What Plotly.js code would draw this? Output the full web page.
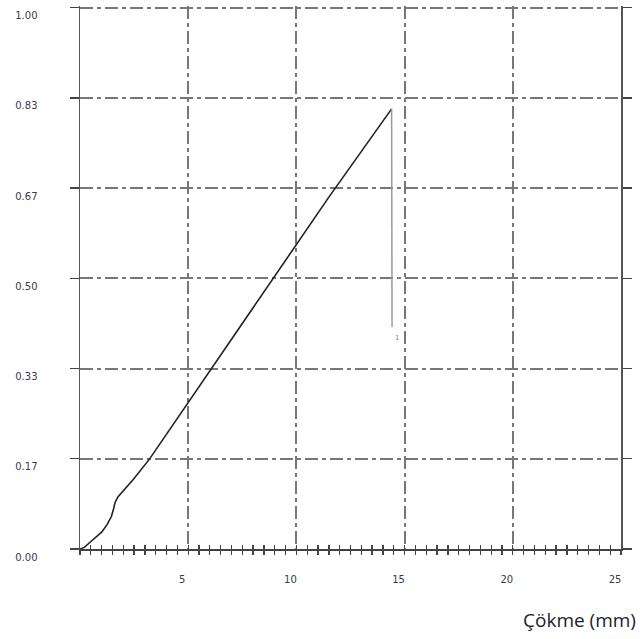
<!DOCTYPE html>
<html>
<head>
<meta charset="utf-8">
<script src="https://cdn.plot.ly/plotly-3.0.1.min.js"></script>
<style>html,body{margin:0;padding:0;background:#fff;}#chart{width:640px;height:639px;}</style>
</head>
<body>
<div id="chart"></div>
<script>
// Load curve (rising part)
const riseX = [0, 0.2, 0.45, 0.75, 1.0, 1.25, 1.45, 1.55, 1.62, 1.75, 2.1, 2.45, 3.21, 6.09, 8.93, 11.5, 14.40];
const riseY = [0, 0.003, 0.012, 0.022, 0.031, 0.045, 0.060, 0.074, 0.086, 0.096, 0.112, 0.128, 0.166, 0.334, 0.500, 0.650, 0.813];
// Sudden drop after peak
const dropX = [14.40, 14.40, 14.42];
const dropY = [0.813, 0.700, 0.410];
// Tick labels
const xTickVals = [5, 10, 15, 20, 25];
const xTickText = ['5', '10', '15', '20', '25'];
const yTickVals = [0, 1/6, 2/6, 3/6, 4/6, 5/6, 1];
const yTickText = ['0.00', '0.17', '0.33', '0.50', '0.67', '0.83', '1.00'];
const xTitle = 'Çökme (mm)';
const markLabel = '1';
const markX = 14.65, markY = 0.39;

const gridDash = '13px,4px,4px,4px';
const traces = [
  {x: riseX, y: riseY, type: 'scatter', mode: 'lines', line: {color: '#222', width: 1.6}, hoverinfo: 'skip'},
  {x: dropX, y: dropY, type: 'scatter', mode: 'lines', line: {color: '#9a9a9a', width: 1.5}, hoverinfo: 'skip'},
  {x: [0, 25], y: [0, 0], xaxis: 'x2', type: 'scatter', mode: 'lines', line: {width: 0}, hoverinfo: 'skip'}
];
const layout = {
  width: 640, height: 639,
  margin: {l: 80, r: 19, t: 6, b: 90, pad: 0},
  paper_bgcolor: '#fff', plot_bgcolor: '#fff',
  showlegend: false,
  font: {family: 'DejaVu Sans, sans-serif', size: 10, color: '#3a3a4a'},
  xaxis: {
    range: [0, 25], tickmode: 'array', tickvals: xTickVals, ticktext: xTickText,
    showline: true, linecolor: '#444', linewidth: 1.5, mirror: false,
    ticks: 'outside', ticklen: 4, tickwidth: 1.3, tickcolor: '#444',
    minor: {dtick: 0.5, tick0: 0, ticks: 'outside', ticklen: 4, tickwidth: 1.3, tickcolor: '#444', showgrid: false},
    showgrid: true, gridcolor: '#777', gridwidth: 2, griddash: gridDash,
    zeroline: false, ticklabelstandoff: 16, ticklabelshift: -6,
    fixedrange: true
  },
  xaxis2: {
    overlaying: 'x', anchor: 'y', side: 'bottom', range: [0, 25],
    tick0: 0, dtick: 0.5, ticks: 'inside', ticklen: 4, tickwidth: 1.3, tickcolor: '#444',
    showticklabels: false, showgrid: false, zeroline: false, showline: false
  },
  yaxis: {
    range: [0, 1.003], tickmode: 'array', tickvals: yTickVals, ticktext: yTickText,
    showline: true, linecolor: '#555', linewidth: 1.5, mirror: 'allticks',
    ticks: 'outside', ticklen: 9, tickwidth: 1.3, tickcolor: '#444',
    showgrid: true, gridcolor: '#777', gridwidth: 2, griddash: gridDash,
    zeroline: false, ticklabelstandoff: 30, ticklabelshift: 8,
    fixedrange: true
  },
  annotations: [
    {text: xTitle, xref: 'paper', yref: 'paper', x: 1, y: 0, xanchor: 'right', yanchor: 'middle',
     xshift: 17, yshift: -71, showarrow: false,
     font: {family: 'Open Sans, sans-serif', size: 19, color: '#1c1c2c'}},
    {text: markLabel, x: markX, y: markY, xref: 'x', yref: 'y', showarrow: false,
     font: {family: 'DejaVu Sans, sans-serif', size: 7, color: '#b08060'}}
  ]
};
Plotly.newPlot('chart', traces, layout, {staticPlot: true, displayModeBar: false});
</script>
</body>
</html>
